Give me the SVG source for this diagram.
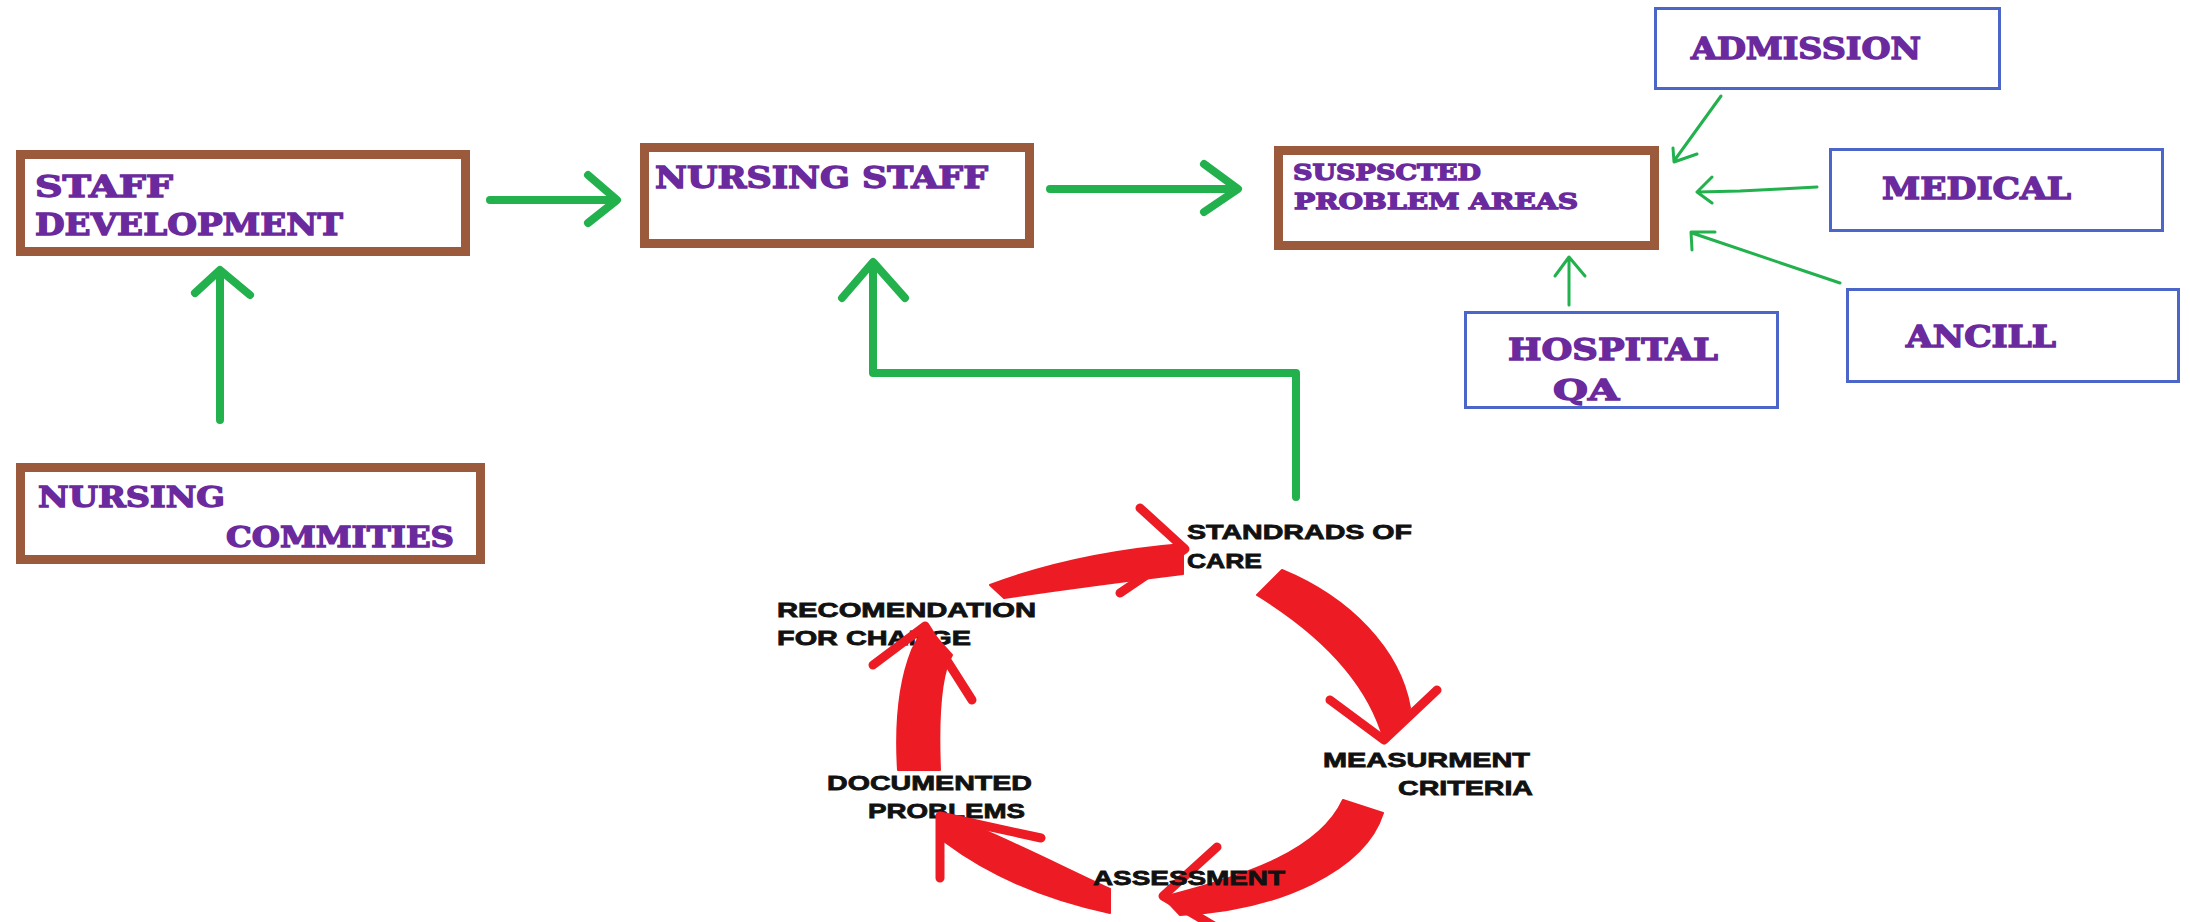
<svg xmlns="http://www.w3.org/2000/svg" width="2190" height="922" viewBox="0 0 2190 922">
<style>
.brown{fill:#fff;stroke:#9B5A3C;stroke-width:9}
.blue{fill:#fff;stroke:#4B66C8;stroke-width:3}
.pt{font-family:"DejaVu Serif","Liberation Serif",serif;font-weight:bold;fill:#6A2A9E;stroke:#6A2A9E;stroke-width:1.3}
.bt{font-family:"Liberation Sans",Arial,sans-serif;font-weight:bold;fill:#111;stroke:#111;stroke-width:0.8;font-size:21px}
.g{fill:none;stroke:#22B14C;stroke-width:8;stroke-linecap:round;stroke-linejoin:round}
.gt{fill:none;stroke:#22B14C;stroke-width:3;stroke-linecap:round;stroke-linejoin:round}
.rb{fill:#ED1C24;stroke:#ED1C24;stroke-width:2;stroke-linejoin:round}
.rh{fill:none;stroke:#ED1C24;stroke-width:9;stroke-linecap:round;stroke-linejoin:round}
</style>
<rect width="2190" height="922" fill="#fff"/>

<g id="staff-development">
<rect class="brown" x="20.5" y="154.5" width="445" height="97"/>
<text class="pt" x="35" y="197" font-size="30" textLength="138" lengthAdjust="spacingAndGlyphs">STAFF</text>
<text class="pt" x="35" y="235" font-size="30" textLength="308" lengthAdjust="spacingAndGlyphs">DEVELOPMENT</text>
</g>

<g id="nursing-staff">
<rect class="brown" x="644.5" y="147.5" width="385" height="96"/>
<text class="pt" x="655" y="188" font-size="29" textLength="333" lengthAdjust="spacingAndGlyphs">NURSING STAFF</text>
</g>

<g id="suspected-problem-areas">
<rect class="brown" x="1278.5" y="150.5" width="376" height="95"/>
<text class="pt" x="1293" y="180" font-size="22" textLength="188" lengthAdjust="spacingAndGlyphs">SUSPSCTED</text>
<text class="pt" x="1294" y="209" font-size="22" textLength="284" lengthAdjust="spacingAndGlyphs">PROBLEM AREAS</text>
</g>

<g id="nursing-commities">
<rect class="brown" x="20.5" y="467.5" width="460" height="92"/>
<text class="pt" x="38" y="507" font-size="28" textLength="187" lengthAdjust="spacingAndGlyphs">NURSING</text>
<text class="pt" x="226" y="547" font-size="28" textLength="228" lengthAdjust="spacingAndGlyphs">COMMITIES</text>
</g>

<g id="admission">
<rect class="blue" x="1655.5" y="8.5" width="344" height="80"/>
<text class="pt" x="1691" y="59" font-size="29" textLength="230" lengthAdjust="spacingAndGlyphs">ADMISSION</text>
</g>

<g id="medical">
<rect class="blue" x="1830.5" y="149.5" width="332" height="81"/>
<text class="pt" x="1882" y="199" font-size="29" textLength="189" lengthAdjust="spacingAndGlyphs">MEDICAL</text>
</g>

<g id="ancill">
<rect class="blue" x="1847.5" y="289.5" width="331" height="92"/>
<text class="pt" x="1906" y="347" font-size="29" textLength="150" lengthAdjust="spacingAndGlyphs">ANCILL</text>
</g>

<g id="hospital-qa">
<rect class="blue" x="1465.5" y="312.5" width="312" height="95"/>
<text class="pt" x="1508" y="360" font-size="30" textLength="210" lengthAdjust="spacingAndGlyphs">HOSPITAL</text>
<text class="pt" x="1553" y="400" font-size="28" textLength="66" lengthAdjust="spacingAndGlyphs">QA</text>
</g>

<g id="connectors">
<path class="g" d="M220 420V272M195 293L220 270L250 295"/>
<path class="g" d="M490 200H615M588 175L617 200L588 223"/>
<path class="g" d="M1050 189H1236M1204 164L1238 189L1204 212"/>
<path class="g" d="M1296 497V373H873V264M842 298L873 262L905 298"/>
<path class="gt" d="M1721 96L1674 161M1673 148L1674 162L1697 154"/>
<path class="gt" d="M1817 187L1780 189L1740 191L1698 192M1712 177L1697 192L1712 203"/>
<path class="gt" d="M1840 283L1692 233M1715 232L1691 232L1692 250"/>
<path class="gt" d="M1569 305V258M1555 276L1569 257L1585 276"/>
</g>

<g id="recomendation-label">
<text class="bt" x="777" y="617" textLength="259" lengthAdjust="spacingAndGlyphs">RECOMENDATION</text>
<text class="bt" x="777" y="645" textLength="194" lengthAdjust="spacingAndGlyphs">FOR CHANGE</text>
</g>
<g id="documented-label">
<text class="bt" x="827" y="790" textLength="205" lengthAdjust="spacingAndGlyphs">DOCUMENTED</text>
<text class="bt" x="868" y="818" textLength="157" lengthAdjust="spacingAndGlyphs">PROBLEMS</text>
</g>

<g id="cycle">
<path class="rb" d="M990 585Q1075 553 1183 544L1183 574Q1085 586 1004 598Z"/>
<path class="rh" d="M1140 508L1185 549L1120 593"/>
<path class="rb" d="M1257 595L1282 570C1350 598 1400 650 1410 708L1384 740C1370 690 1330 640 1257 595Z"/>
<path class="rh" d="M1330 700L1384 740L1437 690"/>
<path class="rb" d="M1343 800L1383 813C1365 870 1280 910 1180 915L1163 897C1250 875 1320 850 1343 800Z"/>
<path class="rh" d="M1217 847L1163 896L1224 932"/>
<path class="rb" d="M1110 913L1110 889C1060 866 1000 835 945 814L945 842C985 872 1040 898 1110 913Z"/>
<path class="rh" d="M940 878L940 816L1041 838"/>
<path class="rb" d="M898 770L940 770C938 720 940 675 952 655L925 625L912 650C900 680 895 720 898 770Z"/>
<path class="rh" d="M873 665L925 626L972 700"/>
</g>

<g id="standards-label">
<text class="bt" x="1187" y="539" textLength="225" lengthAdjust="spacingAndGlyphs">STANDRADS OF</text>
<text class="bt" x="1187" y="568" textLength="75" lengthAdjust="spacingAndGlyphs">CARE</text>
</g>
<g id="measurment-label">
<text class="bt" x="1323" y="767" textLength="207" lengthAdjust="spacingAndGlyphs">MEASURMENT</text>
<text class="bt" x="1398" y="795" textLength="135" lengthAdjust="spacingAndGlyphs">CRITERIA</text>
</g>
<g id="assessment-label">
<text class="bt" x="1093" y="885" textLength="192" lengthAdjust="spacingAndGlyphs">ASSESSMENT</text>
</g>
</svg>
